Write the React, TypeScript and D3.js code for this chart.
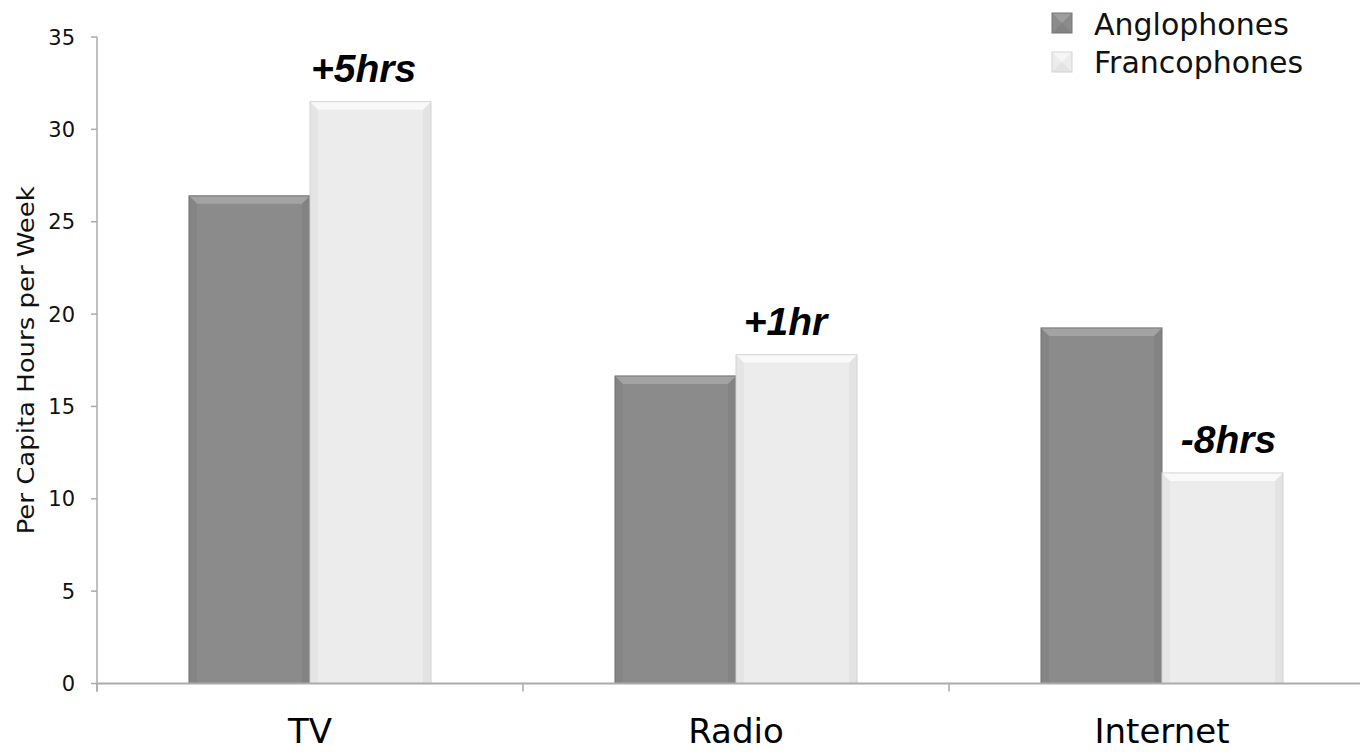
import React from "react";
import * as d3 from "d3";

const categories = ["TV", "Radio", "Internet"];
const seriesNames = ["Anglophones", "Francophones"];
const anglophones = [26.4, 16.65, 19.25];
const francophones = [31.5, 17.8, 11.4];
const diffLabels = ["+5hrs", "+1hr", "-8hrs"];
const yTicks = [0, 5, 10, 15, 20, 25, 30, 35];

const W = 1360, H = 752;
const left = 97, right = 1375, top = 37, bottom = 683.5;

export default function App() {
  const x = d3.scaleBand<string>().domain(categories).range([left, right]).paddingInner(0).paddingOuter(0);
  const y = d3.scaleLinear().domain([0, 35]).range([bottom, top]);
  const inner = d3.scaleBand<string>().domain(seriesNames).range([0, x.bandwidth()]).paddingInner(0).paddingOuter(0.76);
  const fills = ["#8b8b8b", "#ececec"];
  const strokes = ["#747474", "#d4d4d4"];
  const bevelTop = ["#a3a3a3", "#f9f9f9"];
  const bevelSide = ["#7f7f7f", "#dedede"];
  const series = [anglophones, francophones];
  const bev = 8;
  const labelDx = [-7, -11, 6];

  return (
    <svg width={W} height={H} style={{ display: "block", position: "absolute", left: 0, top: 0, background: "#fff" }}>
      {/* y axis */}
      <line x1={left} x2={left} y1={y(35)} y2={bottom + 8} stroke="#ababab" strokeWidth={1.5} />
      {yTicks.map((t) => (
        <g key={t}>
          <line x1={left - 6} x2={left} y1={y(t)} y2={y(t)} stroke="#ababab" strokeWidth={1.5} />
          <text x={75} y={y(t)} dy="0.36em" textAnchor="end" fontFamily="DejaVu Sans" fontSize={21} fill="#111">{t}</text>
        </g>
      ))}
      <text transform={`translate(34,${y(17.5)}) rotate(-90)`} textAnchor="middle" fontFamily="DejaVu Sans Condensed, DejaVu Sans" fontSize={23} textLength={348} lengthAdjust="spacingAndGlyphs" fill="#111">Per Capita Hours per Week</text>
      {/* bars */}
      {categories.map((c, ci) => (
        <g key={c}>
          {series.map((vals, si) => {
            const x0 = (x(c) as number) + (inner(seriesNames[si]) as number);
            const bw = inner.bandwidth();
            const y0 = y(vals[ci]);
            const h = bottom - y0;
            return (
              <g key={si}>
                <rect x={x0} y={y0} width={bw} height={h} fill={fills[si]} />
                <polygon points={`${x0},${y0} ${x0 + bw},${y0} ${x0 + bw - bev},${y0 + bev} ${x0 + bev},${y0 + bev}`} fill={bevelTop[si]} />
                <polygon points={`${x0},${y0} ${x0 + bev},${y0 + bev} ${x0 + bev},${bottom} ${x0},${bottom}`} fill={bevelSide[si]} opacity={0.45} />
                <polygon points={`${x0 + bw},${y0} ${x0 + bw - bev},${y0 + bev} ${x0 + bw - bev},${bottom} ${x0 + bw},${bottom}`} fill={bevelSide[si]} opacity={0.65} />
                <rect x={x0} y={y0} width={bw} height={h} fill="none" stroke={strokes[si]} strokeWidth={1} />
              </g>
            );
          })}
          <text x={(x(c) as number) + (inner("Francophones") as number) + inner.bandwidth() / 2 + labelDx[ci]} y={y(francophones[ci]) - 20}
            textAnchor="middle" fontFamily="Liberation Sans, Arial" fontStyle="italic" fontWeight="bold" fontSize={39} fill="#000">{diffLabels[ci]}</text>
          <text x={(x(c) as number) + x.bandwidth() / 2} y={743} textAnchor="middle" fontFamily="DejaVu Sans" fontSize={34} fill="#000">{c}</text>
        </g>
      ))}
      {/* x axis */}
      <line x1={left} x2={right} y1={bottom} y2={bottom} stroke="#ababab" strokeWidth={2} />
      {categories.map((c) => (
        <line key={c} x1={x(c) as number} x2={x(c) as number} y1={bottom} y2={bottom + 8} stroke="#ababab" strokeWidth={1.5} />
      ))}
      {/* legend */}
      {seriesNames.map((s, i) => {
        const lx = 1052, ly = 13 + i * 39, sz = 20;
        return (
          <g key={s}>
            <rect x={lx} y={ly} width={sz} height={sz} fill={fills[i]} />
            <polygon points={`${lx},${ly} ${lx + sz},${ly} ${lx + sz / 2},${ly + sz / 2}`} fill={bevelTop[i]} opacity={0.8} />
            <polygon points={`${lx},${ly + sz} ${lx + sz},${ly + sz} ${lx + sz / 2},${ly + sz / 2}`} fill={bevelSide[i]} opacity={0.6} />
            <rect x={lx} y={ly} width={sz} height={sz} fill="none" stroke={strokes[i]} strokeWidth={1} />
            <text x={1094} y={35 + i * 38} fontFamily="DejaVu Sans" fontSize={30} fill="#111">{s}</text>
          </g>
        );
      })}
    </svg>
  );
}
